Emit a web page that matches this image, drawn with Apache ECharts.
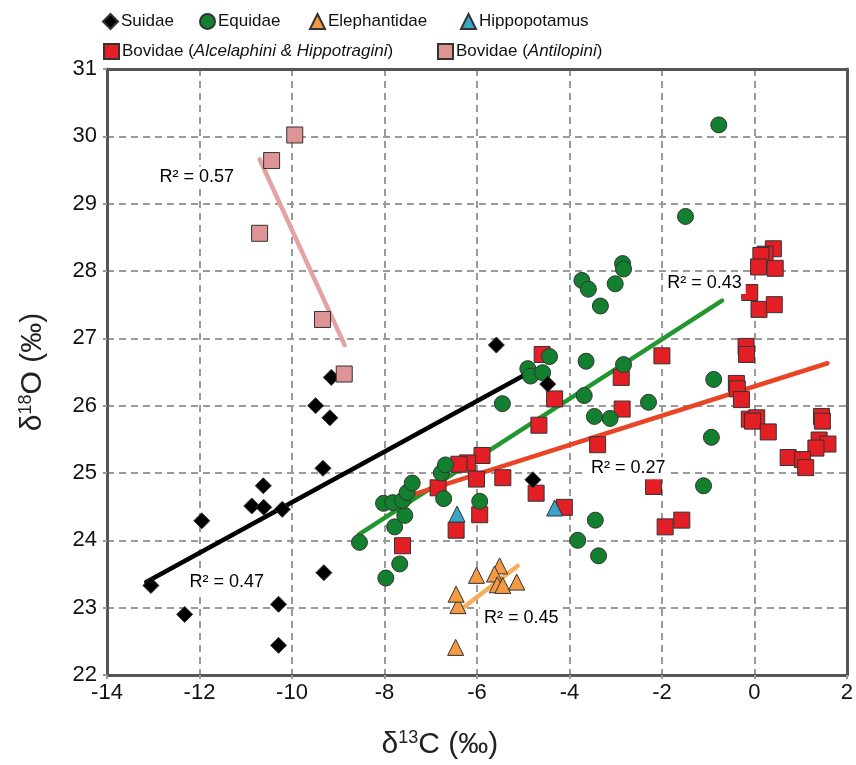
<!DOCTYPE html>
<html>
<head>
<meta charset="utf-8">
<script src="https://cdn.jsdelivr.net/npm/echarts@6/dist/echarts.min.js"></script>
<style>html,body{margin:0;padding:0;background:#fff}#c{width:856px;height:765px}</style>
</head>
<body>
<div id="c"></div>
<script>
// ---- data (δ13C, δ18O) ----
const suidae = [[-13.05,23.33],[-12.32,22.90],[-11.95,24.29],[-10.87,24.51],[-10.62,24.81],[-10.61,24.49],[-10.21,24.46],[-9.49,26.0],[-9.18,25.82],[-9.15,26.42],[-9.33,25.07],[-9.31,23.52],[-10.29,23.05],[-10.29,22.44],[-5.58,26.90],[-4.47,26.32],[-4.79,24.90]];
const equidae = [[-8.54,23.97],[-7.97,23.44],[-7.67,23.65],[-7.78,24.20],[-7.56,24.37],[-8.02,24.55],[-7.82,24.56],[-7.61,24.59],[-7.51,24.71],[-7.40,24.85],[-6.72,24.62],[-6.77,25.0],[-6.68,25.12],[-5.94,24.58],[-5.45,26.03],[-4.90,26.55],[-4.84,26.44],[-4.58,26.49],[-4.43,26.73],[-3.64,26.66],[-3.68,26.15],[-3.46,25.84],[-3.12,25.81],[-3.44,24.30],[-3.82,24.0],[-3.37,23.77],[-2.29,26.05],[-2.83,26.61],[-0.77,30.17],[-1.49,28.81],[-2.85,28.11],[-2.83,28.03],[-3.73,27.86],[-3.59,27.73],[-3.01,27.81],[-3.33,27.48],[-0.88,26.39],[-0.93,25.53],[-1.10,24.81]];
const elephantidae = [[-6.46,22.41],[-6.41,23.03],[-6.45,23.2],[-6.01,23.48],[-5.51,23.62],[-5.62,23.50],[-5.56,23.34],[-5.44,23.33],[-5.14,23.38]];
const hippopotamus = [[-6.43,24.39],[-4.32,24.48]];
const bovidaeAH = [[-4.59,26.76],[-4.32,26.10],[-4.66,25.71],[-3.39,25.42],[-5.89,25.26],[-6.20,25.15],[-6.39,25.13],[-6.01,24.91],[-5.44,24.93],[-6.84,24.78],[-4.72,24.70],[-4.11,24.49],[-5.94,24.38],[-6.45,24.15],[-7.61,23.92],[-2.0,26.74],[-2.88,26.42],[-2.86,25.95],[-2.18,24.80],[-1.93,24.20],[-1.57,24.30],[0.41,28.33],[0.23,28.25],[0.14,28.23],[0.09,28.06],[0.45,28.04],[-0.10,27.68],[0.10,27.43],[0.43,27.50],[-0.18,26.88],[-0.17,26.76],[-0.39,26.33],[-0.37,26.25],[-0.28,26.09],[-0.11,25.80],[0.05,25.82],[-0.04,25.77],[0.30,25.61],[1.45,25.84],[1.47,25.77],[1.40,25.49],[1.59,25.43],[1.33,25.37],[0.73,25.23],[1.04,25.20],[1.11,25.08]];
const antilopini = [[-9.94,30.02],[-10.44,29.64],[-10.70,28.56],[-9.34,27.28],[-8.87,26.47]];

// regression lines (end points)
const suidaeFit = [[-13.15,23.38],[-4.9,26.48]];
const equidaeFit = [[-8.55,24.09],[-0.70,27.56]];
const bovidaeFit = [[-7.42,24.67],[1.58,26.63]];
const elephFit = [[-6.30,23.0],[-5.12,23.62]];
const antiFit = [[-10.70,29.66],[-8.86,26.9]];

// R² annotations
const r2Text = ['R² = 0.57','R² = 0.47','R² = 0.43','R² = 0.27','R² = 0.45'];
const r2X = [-12.06,-11.41,-1.08,-2.73,-5.04];
const r2Y = [29.39,23.38,27.82,25.07,22.85];

const FONT = 'Liberation Sans, Arial, sans-serif';
const chart = echarts.init(document.getElementById('c'));

const names = {
  su:'Suidae', eq:'Equidae', el:'Elephantidae', hi:'Hippopotamus',
  bo:'Bovidae (Alcelaphini & Hippotragini)', an:'Bovidae (Antilopini)'
};
const legRich = { n:{fontFamily:FONT,fontSize:17,color:'#111'}, i:{fontFamily:FONT,fontSize:17,fontStyle:'italic',color:'#111'} };
function legendFmt(name){
  if(name===names.bo) return '{n|Bovidae (}{i|Alcelaphini & Hippotragini}{n|)}';
  if(name===names.an) return '{n|Bovidae (}{i|Antilopini}{n|)}';
  return '{n|'+name+'}';
}
function leg(name,left,top){
  return {data:[name],left:left,top:top,itemWidth:15,itemHeight:15,itemGap:0,
    formatter:legendFmt,textStyle:{rich:legRich,fontFamily:FONT,fontSize:17,padding:[0,0,0,-2]},
    selectedMode:false};
}

const border = {borderColor:'#333',borderWidth:1};
function sc(name,data,symbol,color,z,size){
  return {name:name,type:'scatter',data:data,symbol:symbol,symbolSize:size||16,z:z,
    itemStyle:Object.assign({color:color,opacity:1},border),emphasis:{disabled:true}};
}
function fit(data,color,w){
  return {type:'line',data:data,symbol:'none',z:1,silent:true,
    lineStyle:{color:color,width:w||4.5,cap:'round'}};
}
const titleRich = {d:{fontFamily:FONT,fontSize:30,color:'#222'},s:{fontFamily:FONT,fontSize:18,color:'#222',verticalAlign:'top',padding:[0,0,14,0]}};
const frameAxis = {type:'value',axisLine:{show:true,onZero:false,lineStyle:{color:'#555',width:3}},axisTick:{show:false},axisLabel:{show:false},splitLine:{show:false}};

chart.setOption({
  animation:false,
  backgroundColor:'#fff',
  legend:[
    leg(names.su,97,8),
    leg(names.eq,194,8),
    leg(names.el,304,8),
    leg(names.hi,455,8),
    leg(names.bo,98,38),
    leg(names.an,432,38)
  ],
  grid:{left:107,right:9,top:69,bottom:89},
  xAxis:[{
    type:'value',min:-14,max:2,interval:2,
    name:'{d|δ}{s|13}{d|C (‰)}',nameLocation:'middle',nameGap:54,
    nameTextStyle:{rich:titleRich,padding:[0,74,0,0]},
    axisLine:{show:true,onZero:false,lineStyle:{color:'#555',width:3}},
    axisTick:{show:true,inside:false,length:4,lineStyle:{color:'#999',width:2}},
    axisLabel:{fontFamily:FONT,fontSize:22,color:'#111',margin:7},
    splitLine:{show:true,lineStyle:{color:'#9a9a9a',width:2,type:[7,5]}}
  },Object.assign({position:'top',min:-14,max:2},frameAxis)],
  yAxis:[{
    type:'value',min:22,max:31,interval:1,
    name:'{d|δ}{s|18}{d|O (‰)}',nameLocation:'middle',nameGap:58,
    nameTextStyle:{rich:titleRich},
    axisLine:{show:true,onZero:false,lineStyle:{color:'#555',width:3}},
    axisTick:{show:true,inside:false,length:4,lineStyle:{color:'#999',width:2}},
    axisLabel:{fontFamily:FONT,fontSize:22,color:'#111',margin:10},
    splitLine:{show:true,lineStyle:{color:'#9a9a9a',width:2,type:[7,5]}}
  },Object.assign({position:'right',min:22,max:31},frameAxis)],
  series:[
    fit(antiFit,'#e3a3a3'),
    fit(suidaeFit,'#000'),
    fit(equidaeFit,'#23962f'),
    fit(bovidaeFit,'#ea4325'),
    fit(elephFit,'#f7ae5a'),
    sc(names.bo,bovidaeAH,'rect','#e31e24',3),
    sc(names.eq,equidae,'circle','#13802f',4),
    sc(names.el,elephantidae,'triangle','#f39a43',5),
    sc(names.hi,hippopotamus,'triangle','#3aa5c6',5),
    sc(names.su,suidae,'diamond','#000',6),
    sc(names.an,antilopini,'rect','#dc9494',6),
    {type:'scatter',z:7,silent:true,symbol:'circle',symbolSize:1,
     itemStyle:{color:'rgba(255,255,255,0)',opacity:1},
     data:r2Text.map((t,i)=>({name:t,value:[r2X[i],r2Y[i]]})),
     label:{show:true,position:'inside',formatter:p=>p.name,fontFamily:FONT,fontSize:18,color:'#000',opacity:1,
       textBorderWidth:0,backgroundColor:'#fff',padding:[2,4]}}
  ]
});
</script>
</body>
</html>
